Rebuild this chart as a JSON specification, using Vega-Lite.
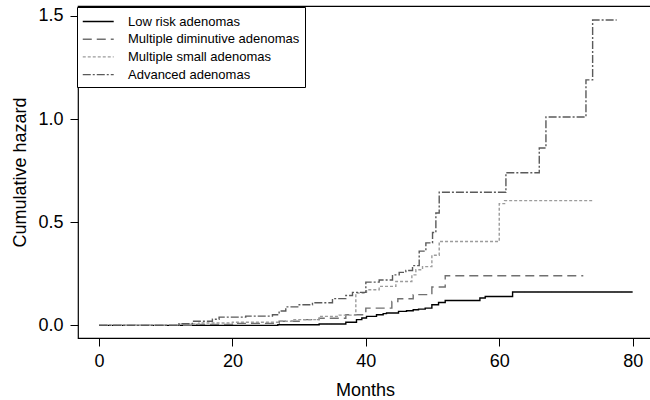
{
  "$schema": "https://vega.github.io/schema/vega-lite/v6.json",
  "width": 574,
  "height": 332,
  "autosize": {"type": "none"},
  "padding": {"left": 78, "top": 6, "right": 0, "bottom": 62},
  "background": "#ffffff",
  "config": {
    "view": {"stroke": "#000000", "strokeWidth": 1.2},
    "font": "Liberation Sans"
  },
  "datasets": {
    "curves": [
      {"series": "Low risk adenomas", "month": 0, "hazard": 0},
      {"series": "Low risk adenomas", "month": 26.8, "hazard": 0.003},
      {"series": "Low risk adenomas", "month": 33, "hazard": 0.007},
      {"series": "Low risk adenomas", "month": 37, "hazard": 0.015},
      {"series": "Low risk adenomas", "month": 38.6, "hazard": 0.028},
      {"series": "Low risk adenomas", "month": 39.4, "hazard": 0.036},
      {"series": "Low risk adenomas", "month": 40.1, "hazard": 0.044},
      {"series": "Low risk adenomas", "month": 41.6, "hazard": 0.052},
      {"series": "Low risk adenomas", "month": 42.6, "hazard": 0.057},
      {"series": "Low risk adenomas", "month": 43.1, "hazard": 0.06},
      {"series": "Low risk adenomas", "month": 44.9, "hazard": 0.068},
      {"series": "Low risk adenomas", "month": 46.1, "hazard": 0.071},
      {"series": "Low risk adenomas", "month": 47.1, "hazard": 0.076},
      {"series": "Low risk adenomas", "month": 47.9, "hazard": 0.079},
      {"series": "Low risk adenomas", "month": 48.9, "hazard": 0.084},
      {"series": "Low risk adenomas", "month": 49.9, "hazard": 0.1},
      {"series": "Low risk adenomas", "month": 50.9, "hazard": 0.111},
      {"series": "Low risk adenomas", "month": 51.9, "hazard": 0.121},
      {"series": "Low risk adenomas", "month": 57.1, "hazard": 0.133},
      {"series": "Low risk adenomas", "month": 57.9, "hazard": 0.14},
      {"series": "Low risk adenomas", "month": 62, "hazard": 0.162},
      {"series": "Low risk adenomas", "month": 80, "hazard": 0.162},

      {"series": "Multiple diminutive adenomas", "month": 0, "hazard": 0},
      {"series": "Multiple diminutive adenomas", "month": 14, "hazard": 0.005},
      {"series": "Multiple diminutive adenomas", "month": 20, "hazard": 0.01},
      {"series": "Multiple diminutive adenomas", "month": 27, "hazard": 0.02},
      {"series": "Multiple diminutive adenomas", "month": 30, "hazard": 0.028},
      {"series": "Multiple diminutive adenomas", "month": 33, "hazard": 0.035},
      {"series": "Multiple diminutive adenomas", "month": 37, "hazard": 0.052},
      {"series": "Multiple diminutive adenomas", "month": 40, "hazard": 0.084},
      {"series": "Multiple diminutive adenomas", "month": 43.9, "hazard": 0.116},
      {"series": "Multiple diminutive adenomas", "month": 44.8, "hazard": 0.129},
      {"series": "Multiple diminutive adenomas", "month": 47.1, "hazard": 0.149},
      {"series": "Multiple diminutive adenomas", "month": 49.9, "hazard": 0.186},
      {"series": "Multiple diminutive adenomas", "month": 51.9, "hazard": 0.241},
      {"series": "Multiple diminutive adenomas", "month": 72.6, "hazard": 0.241},

      {"series": "Multiple small adenomas", "month": 0, "hazard": 0},
      {"series": "Multiple small adenomas", "month": 12, "hazard": 0.007},
      {"series": "Multiple small adenomas", "month": 15, "hazard": 0.012},
      {"series": "Multiple small adenomas", "month": 20, "hazard": 0.015},
      {"series": "Multiple small adenomas", "month": 27, "hazard": 0.02},
      {"series": "Multiple small adenomas", "month": 29, "hazard": 0.028},
      {"series": "Multiple small adenomas", "month": 33, "hazard": 0.044},
      {"series": "Multiple small adenomas", "month": 36, "hazard": 0.05},
      {"series": "Multiple small adenomas", "month": 38.5, "hazard": 0.157},
      {"series": "Multiple small adenomas", "month": 40.1, "hazard": 0.173},
      {"series": "Multiple small adenomas", "month": 42, "hazard": 0.189},
      {"series": "Multiple small adenomas", "month": 44.5, "hazard": 0.213},
      {"series": "Multiple small adenomas", "month": 46.9, "hazard": 0.245},
      {"series": "Multiple small adenomas", "month": 47.5, "hazard": 0.27},
      {"series": "Multiple small adenomas", "month": 48.5, "hazard": 0.285},
      {"series": "Multiple small adenomas", "month": 49.9, "hazard": 0.34},
      {"series": "Multiple small adenomas", "month": 51, "hazard": 0.407},
      {"series": "Multiple small adenomas", "month": 60, "hazard": 0.59},
      {"series": "Multiple small adenomas", "month": 60.8, "hazard": 0.605},
      {"series": "Multiple small adenomas", "month": 74, "hazard": 0.605},

      {"series": "Advanced adenomas", "month": 0, "hazard": 0},
      {"series": "Advanced adenomas", "month": 12, "hazard": 0.008},
      {"series": "Advanced adenomas", "month": 14, "hazard": 0.02},
      {"series": "Advanced adenomas", "month": 17, "hazard": 0.03},
      {"series": "Advanced adenomas", "month": 18, "hazard": 0.04},
      {"series": "Advanced adenomas", "month": 22, "hazard": 0.045},
      {"series": "Advanced adenomas", "month": 26, "hazard": 0.052},
      {"series": "Advanced adenomas", "month": 27, "hazard": 0.07},
      {"series": "Advanced adenomas", "month": 28, "hazard": 0.09},
      {"series": "Advanced adenomas", "month": 30, "hazard": 0.1},
      {"series": "Advanced adenomas", "month": 32, "hazard": 0.11},
      {"series": "Advanced adenomas", "month": 35, "hazard": 0.13},
      {"series": "Advanced adenomas", "month": 37, "hazard": 0.145},
      {"series": "Advanced adenomas", "month": 38, "hazard": 0.16},
      {"series": "Advanced adenomas", "month": 40, "hazard": 0.21},
      {"series": "Advanced adenomas", "month": 42, "hazard": 0.22},
      {"series": "Advanced adenomas", "month": 44, "hazard": 0.245},
      {"series": "Advanced adenomas", "month": 45, "hazard": 0.257},
      {"series": "Advanced adenomas", "month": 46, "hazard": 0.266},
      {"series": "Advanced adenomas", "month": 47, "hazard": 0.29},
      {"series": "Advanced adenomas", "month": 48, "hazard": 0.36},
      {"series": "Advanced adenomas", "month": 49, "hazard": 0.4},
      {"series": "Advanced adenomas", "month": 50, "hazard": 0.45},
      {"series": "Advanced adenomas", "month": 50.5, "hazard": 0.545},
      {"series": "Advanced adenomas", "month": 51, "hazard": 0.645},
      {"series": "Advanced adenomas", "month": 61, "hazard": 0.74},
      {"series": "Advanced adenomas", "month": 66, "hazard": 0.86},
      {"series": "Advanced adenomas", "month": 67, "hazard": 1.01},
      {"series": "Advanced adenomas", "month": 73, "hazard": 1.19},
      {"series": "Advanced adenomas", "month": 74, "hazard": 1.48},
      {"series": "Advanced adenomas", "month": 77.6, "hazard": 1.48}
    ]
  },
  "data": {"name": "curves"},
  "mark": {"type": "line", "interpolate": "step-after", "strokeWidth": 1.4, "clip": true},
  "encoding": {
    "x": {
      "field": "month",
      "type": "quantitative",
      "scale": {"domain": [-3.15, 82.9], "nice": false, "zero": false},
      "axis": {
        "values": [0, 20, 40, 60, 80],
        "title": "Months",
        "grid": false,
        "domain": false,
        "tickSize": 8,
        "tickColor": "#000000",
        "tickWidth": 1,
        "labelFontSize": 18,
        "labelColor": "#000000",
        "labelPadding": 6,
        "labelFlush": false,
        "titleFontSize": 18,
        "titleFontWeight": "normal",
        "titleColor": "#000000",
        "titlePadding": 11
      }
    },
    "y": {
      "field": "hazard",
      "type": "quantitative",
      "scale": {"domain": [-0.061, 1.548], "nice": false, "zero": false},
      "axis": {
        "values": [0, 0.5, 1, 1.5],
        "format": ".1f",
        "title": "Cumulative hazard",
        "grid": false,
        "domain": false,
        "tickSize": 8,
        "tickColor": "#000000",
        "tickWidth": 1,
        "labelFontSize": 18,
        "labelColor": "#000000",
        "labelPadding": 7,
        "labelFlush": false,
        "titleFontSize": 18,
        "titleFontWeight": "normal",
        "titleColor": "#000000",
        "titlePadding": 8
      }
    },
    "color": {
      "field": "series",
      "type": "nominal",
      "sort": ["Low risk adenomas", "Multiple diminutive adenomas", "Multiple small adenomas", "Advanced adenomas"],
      "scale": {
        "domain": ["Low risk adenomas", "Multiple diminutive adenomas", "Multiple small adenomas", "Advanced adenomas"],
        "range": ["#000000", "#707070", "#9c9c9c", "#5a5a5a"]
      },
      "legend": {
        "title": null,
        "orient": "none",
        "legendX": -1,
        "legendY": 1,
        "direction": "vertical",
        "strokeColor": "#000000",
        "fillColor": "#ffffff",
        "padding": 5,
        "symbolType": "M-1,0H2.54",
        "symbolSize": 306,
        "symbolStrokeWidth": 1.4,
        "labelFontSize": 13,
        "labelOffset": 27,
        "labelColor": "#000000",
        "labelLimit": 400,
        "rowPadding": 0.7
      }
    },
    "strokeDash": {
      "field": "series",
      "type": "nominal",
      "sort": ["Low risk adenomas", "Multiple diminutive adenomas", "Multiple small adenomas", "Advanced adenomas"],
      "scale": {
        "domain": ["Low risk adenomas", "Multiple diminutive adenomas", "Multiple small adenomas", "Advanced adenomas"],
        "range": [[1, 0], [9, 5], [3, 2], [8, 2, 2, 2]]
      },
      "legend": {
        "title": null,
        "orient": "none",
        "legendX": -1,
        "legendY": 1,
        "direction": "vertical",
        "strokeColor": "#000000",
        "fillColor": "#ffffff",
        "padding": 5,
        "symbolType": "M-1,0H2.54",
        "symbolSize": 306,
        "symbolStrokeWidth": 1.4,
        "labelFontSize": 13,
        "labelOffset": 27,
        "labelColor": "#000000",
        "labelLimit": 400,
        "rowPadding": 0.7
      }
    }
  }
}
